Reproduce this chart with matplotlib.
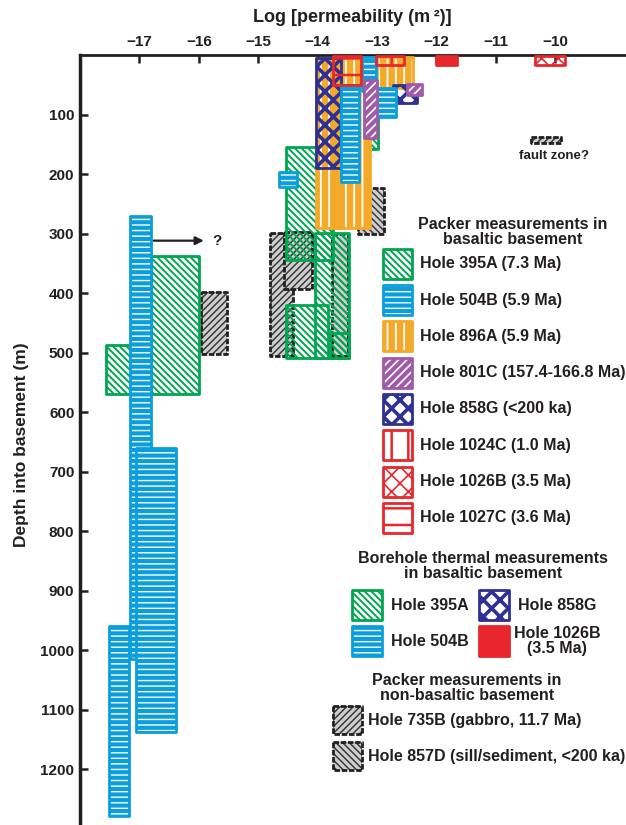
import matplotlib
matplotlib.use('Agg')
import matplotlib.pyplot as plt
from matplotlib.patches import Rectangle

plt.rcParams['font.family'] = ['Liberation Sans', 'DejaVu Sans']
plt.rcParams['font.weight'] = 'bold'
plt.rcParams['hatch.linewidth'] = 1.5

INK = '#231f20'
GREEN = '#00a651'
BLUE = '#0a9fdc'
ORANGE = '#f5a929'
PURPLE = '#a05ba8'
NAVY = '#2e3192'
RED = '#e8262c'

# boxes: (log k min, log k max, top depth, bottom depth) in m into basement
hole_395A = [(-16.80, -16.00, 338, 569), (-17.56, -16.85, 487, 570),
             (-14.53, -13.74, 154, 344), (-14.04, -13.47, 299, 510),
             (-14.53, -13.82, 420, 510), (-13.80, -13.47, 467, 510),
             (-13.55, -12.98, 95, 158)]
hole_504B = [(-17.16, -16.81, 270, 1015), (-17.06, -16.39, 660, 1137),
             (-17.51, -17.18, 960, 1279), (-13.60, -13.30, 50, 213),
             (-13.26, -13.02, 3, 60), (-13.00, -12.68, 56, 104),
             (-14.65, -14.35, 197, 222)]
hole_896A = [(-14.02, -13.60, 5, 291), (-13.68, -13.12, 5, 291),
             (-13.00, -12.39, 3, 56)]
hole_801C = [(-13.22, -13.00, 42, 140), (-12.50, -12.25, 48, 68)]
hole_858G = [(-14.03, -13.60, 5, 190), (-12.74, -12.33, 51, 81)]
hole_1024C = [(-13.01, -12.55, 2, 16)]
hole_1026B_packer = [(-10.35, -9.84, 1, 17)]
hole_1027C = [(-13.75, -13.27, 2, 51)]
hole_1026B_thermal = [(-12.01, -11.65, 1, 17)]
hole_735B = [(-15.96, -15.52, 398, 503), (-14.81, -14.41, 299, 506),
             (-14.57, -14.10, 297, 393), (-10.41, -9.91, 137, 148)]
hole_857D = [(-13.76, -13.49, 300, 505), (-13.32, -12.88, 224, 300)]

x_ticks = [-17, -16, -15, -14, -13, -12, -11, -10]
y_ticks = [100, 200, 300, 400, 500, 600, 700, 800, 900, 1000, 1100, 1200]

styles = {
    '395A': dict(face='none', hcolor=GREEN, hatch='\\\\\\\\\\', edge=GREEN, hlw=1.4),
    '504B': dict(face=BLUE, hcolor='white', hatch='---', edge=BLUE, hlw=1.0),
    '896A': dict(face=ORANGE, hcolor='white', hatch='||', edge=ORANGE, hlw=1.3),
    '801C': dict(face=PURPLE, hcolor='white', hatch='////', edge=PURPLE, hlw=1.2),
    '858G': dict(face='none', hcolor=NAVY, hatch='xx', edge=NAVY, hlw=2.6),
    '1024C': dict(face='none', hcolor=RED, hatch='|', edge=RED, hlw=1.8),
    '1026B': dict(face='none', hcolor=RED, hatch='xx', edge=RED, hlw=1.2),
    '1027C': dict(face='none', hcolor=RED, hatch='-', edge=RED, hlw=1.8),
    '1026Bt': dict(face=RED, hcolor=None, hatch=None, edge=RED),
    '735B': dict(face='#cfcfcf', hcolor='#3a3a3a', hatch='/////', edge=INK, ls=(0, (2, 0.6)), hlw=1.1),
    '857D': dict(face='#cfcfcf', hcolor='#3a3a3a', hatch='\\\\\\\\\\', edge=INK, ls=(0, (2, 0.6)), hlw=1.1),
}


def box(ax, x0, x1, y0, y1, st, z):
    w, h = x1 - x0, y1 - y0
    if st['face'] != 'none':
        ax.add_patch(Rectangle((x0, y0), w, h, facecolor=st['face'], edgecolor='none', zorder=z))
    if st['hatch']:
        p = Rectangle((x0, y0), w, h, facecolor='none', edgecolor=st['hcolor'], lw=0,
                      hatch=st['hatch'], zorder=z)
        if hasattr(p, 'set_hatch_linewidth'):
            p.set_hatch_linewidth(st.get('hlw', 1.5))
        ax.add_patch(p)
    ax.add_patch(Rectangle((x0, y0), w, h, facecolor='none', edgecolor=st['edge'], lw=2,
                           ls=st.get('ls', '-'), zorder=z, joinstyle='round'))


fig = plt.figure(figsize=(6.26, 8.25), dpi=100)
ax = fig.add_axes([80 / 626, 0, 546 / 626, 1 - 55 / 825])
ax.set_xlim(-18, -8.81)
ax.set_ylim(1294, 0)

layers = [(hole_735B, '735B', 1), (hole_857D, '857D', 1), (hole_395A, '395A', 2),
          (hole_896A, '896A', 3), (hole_858G, '858G', 4), (hole_504B, '504B', 5),
          (hole_801C, '801C', 6), (hole_1024C, '1024C', 7), (hole_1027C, '1027C', 7),
          (hole_1026B_thermal, '1026Bt', 7), (hole_1026B_packer, '1026B', 7)]
for boxes, key, z in layers:
    for x0, x1, y0, y1 in boxes:
        box(ax, x0, x1, y0, y1, styles[key], z)

ax.annotate('', xy=(-15.87, 312), xytext=(-16.81, 312),
            arrowprops=dict(arrowstyle='-|>', color=INK, lw=1.6, mutation_scale=12))
ax.text(-15.78, 312, '?', fontsize=11, color=INK, va='center', ha='left')
ax.text(-10.02, 169, 'fault zone?', fontsize=9.5, color=INK, ha='center', va='center')

for s in ['bottom', 'right']:
    ax.spines[s].set_visible(False)
ax.spines['top'].set_linewidth(2)
ax.spines['left'].set_linewidth(2.5)
ax.spines['top'].set_color(INK)
ax.spines['left'].set_color(INK)
ax.xaxis.tick_top()
ax.set_xticks(x_ticks)
ax.set_yticks(y_ticks)
ax.tick_params(axis='both', direction='in', length=6, width=1.8, colors=INK, labelsize=11, pad=4)

fig.text(352 / 626, 1 - 18 / 825, 'Log [permeability (m\u2009\u00b2)]', ha='center', va='center',
         fontsize=13, color=INK)
fig.text(22 / 626, 1 - 445 / 825, 'Depth into basement (m)', rotation=90, ha='center',
         va='center', fontsize=12.5, color=INK)

# legend drawn in pixel space
lg = fig.add_axes([0, 0, 1, 1], zorder=5)
lg.set_xlim(0, 626)
lg.set_ylim(825, 0)
lg.axis('off')
lg.patch.set_alpha(0)

packer_keys = ['395A', '504B', '896A', '801C', '858G', '1024C', '1026B', '1027C']
packer_labels = ['Hole 395A (7.3 Ma)', 'Hole 504B (5.9 Ma)', 'Hole 896A (5.9 Ma)',
                 'Hole 801C (157.4-166.8 Ma)', 'Hole 858G (<200 ka)', 'Hole 1024C (1.0 Ma)',
                 'Hole 1026B (3.5 Ma)', 'Hole 1027C (3.6 Ma)']
thermal_keys = ['395A', '858G', '504B', '1026Bt']
thermal_labels = ['Hole 395A', 'Hole 858G', 'Hole 504B', 'Hole 1026B\n(3.5 Ma)']
nonbasalt_keys = ['735B', '857D']
nonbasalt_labels = ['Hole 735B (gabbro, 11.7 Ma)', 'Hole 857D (sill/sediment, <200 ka)']

FS = 11.5
lg.text(513, 232, 'Packer measurements in\nbasaltic basement', ha='center', va='center',
        fontsize=FS, color=INK, linespacing=1.05)
for i, (k, lab) in enumerate(zip(packer_keys, packer_labels)):
    cy = 263.7 + i * 36.3
    box(lg, 383, 412, cy - 15, cy + 15, styles[k], 1)
    lg.text(420, cy, lab, va='center', ha='left', fontsize=FS, color=INK)

lg.text(483, 566, 'Borehole thermal measurements\nin basaltic basement', ha='center',
        va='center', fontsize=FS, color=INK, linespacing=1.05)
for i, (k, lab) in enumerate(zip(thermal_keys, thermal_labels)):
    col, row = i % 2, i // 2
    px = 352 if col == 0 else 479
    cy = 605 + row * 36
    box(lg, px, px + 30, cy - 15, cy + 15, styles[k], 1)
    if '\n' in lab:
        lg.text(557, cy, lab, va='center', ha='center', fontsize=FS, color=INK, linespacing=1.0)
    else:
        lg.text(px + 39, cy, lab, va='center', ha='left', fontsize=FS, color=INK)

lg.text(467, 688, 'Packer measurements in\nnon-basaltic basement', ha='center', va='center',
        fontsize=FS, color=INK, linespacing=1.05)
for i, (k, lab) in enumerate(zip(nonbasalt_keys, nonbasalt_labels)):
    cy = 720 + i * 36
    box(lg, 333, 362, cy - 14, cy + 14, styles[k], 1)
    lg.text(368, cy, lab, va='center', ha='left', fontsize=FS, color=INK)

fig.savefig('out.png', dpi=100)
